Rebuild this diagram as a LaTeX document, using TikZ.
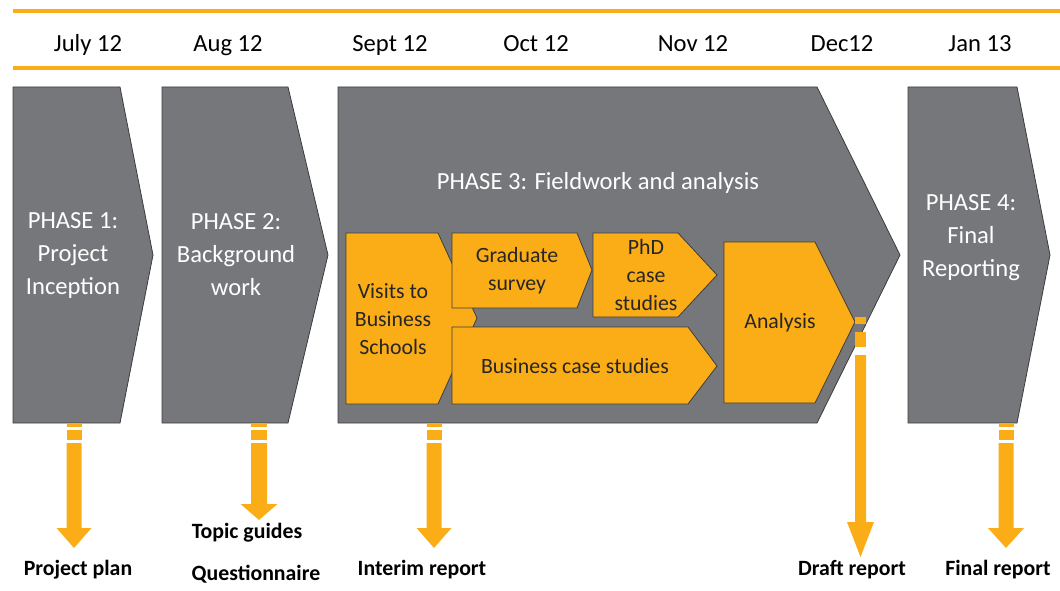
\documentclass[tikz,border=0pt]{standalone}
\usepackage{fontspec}
\setmainfont{Carlito}
\definecolor{phasegray}{HTML}{76777B}
\definecolor{orng}{HTML}{FBAD18}
\definecolor{edge}{HTML}{3C3C3C}
\newcommand\striparrow[6]{%
  \fill[orng] ({#1-#5},#2) rectangle ({#1+#5},{#2+4});
  \fill[orng] ({#1-#5},{#2+7}) rectangle ({#1+#5},{#2+17});
  \fill[orng] ({#1-#5},{#2+20}) -- ({#1+#5},{#2+20}) -- ({#1+#5},#3) -- ({#1+#6},#3)
     -- (#1,#4) -- ({#1-#6},#3) -- ({#1-#5},#3) -- cycle;}
\begin{document}
\begin{tikzpicture}[x=1pt,y=-1pt,
  month/.style={font=\fontsize{24.6}{28}\selectfont, text=black, anchor=base},
  phase/.style={draw=edge, line width=0.8pt, fill=phasegray},
  phasetext/.style={font=\fontsize{24.6}{33}\selectfont, text=white, align=center},
  task/.style={draw=edge, line width=0.8pt, fill=orng},
  tasktext/.style={font=\fontsize{21.8}{28}\selectfont, text=black!85, align=center},
  deliv/.style={font=\bfseries\fontsize{21.8}{25}\selectfont, text=black, anchor=base}]
\useasboundingbox (0,0) rectangle (1060,591);
% timeline
\draw[orng, line width=3.5pt] (13,11) -- (1060,11);
\draw[orng, line width=3.5pt] (13,68) -- (1060,68);
\node[month] (m1) at (88,52) {July 12};
\node[month] (m2) at (228,52) {Aug 12};
\node[month] (m3) at (390,52) {Sept 12};
\node[month] (m4) at (536,52) {Oct 12};
\node[month] (m5) at (693,52) {Nov 12};
\node[month] (m6) at (842,52) {Dec12};
\node[month] (m7) at (980,52) {Jan 13};
% phases
\draw[phase] (13,87) -- (120,87) -- (153,255) -- (120,423) -- (13,423) -- cycle;
\draw[phase] (162,87) -- (288,87) -- (328,255) -- (288,423) -- (162,423) -- cycle;
\draw[phase] (338,87) -- (817,87) -- (900,255) -- (817,423) -- (338,423) -- cycle;
\draw[phase] (908,87) -- (1017,87) -- (1050,255) -- (1017,423) -- (908,423) -- cycle;
\node[phasetext] (p1) at (73,255) {PHASE 1:\\Project\\Inception};
\node[phasetext] (p2) at (236,255) {PHASE 2:\\Background\\work};
\node[phasetext] (p3) at (598,183) {PHASE 3: Fieldwork and analysis};
\node[phasetext] (p4) at (971,238) {PHASE 4:\\Final\\Reporting};
% tasks
\draw[task] (346,233) -- (438,233) -- (477,318) -- (438,404) -- (346,404) -- cycle;
\draw[task] (452,233) -- (577,233) -- (592,270) -- (577,308) -- (452,308) -- cycle;
\draw[task] (593,233) -- (678,233) -- (717,275) -- (678,317) -- (593,317) -- cycle;
\draw[task] (452,327) -- (688,327) -- (717,366) -- (688,404) -- (452,404) -- cycle;
\draw[task] (724,242) -- (815,242) -- (855,322) -- (815,403) -- (724,403) -- cycle;
\node[tasktext] (t1) at (393,319) {Visits to\\Business\\Schools};
\node[tasktext] (t2) at (517,271) {Graduate\\survey};
\node[tasktext] (t3) at (646,275) {PhD\\case\\studies};
\node[tasktext] (t4) at (575,366) {Business case studies};
\node[tasktext] (t5) at (780,323) {Analysis};
% deliverable arrows
\striparrow{74}{423}{528}{548}{7.5}{17.5}
\striparrow{259}{423}{504}{520}{8}{18.5}
\striparrow{434}{423}{528}{548}{7.5}{17.5}
\fill[orng] (855,317) rectangle (866,324);
\fill[orng] (855,332) rectangle (866,347);
\fill[orng] (855,355) -- (866,355) -- (866,522) -- (874,522) -- (860.5,557) -- (847,522) -- (855,522) -- cycle;
\striparrow{1006}{423}{528}{548}{7.5}{18}
% deliverables
\node[deliv] (d1) at (78,575) {Project plan};
\node[deliv] (d2a) at (247,538) {Topic guides};
\node[deliv] (d2b) at (256,580) {Questionnaire};
\node[deliv] (d3) at (422,575) {Interim report};
\node[deliv] (d4) at (852,575) {Draft report};
\node[deliv] (d5) at (998,575) {Final report};
\end{tikzpicture}
\end{document}
